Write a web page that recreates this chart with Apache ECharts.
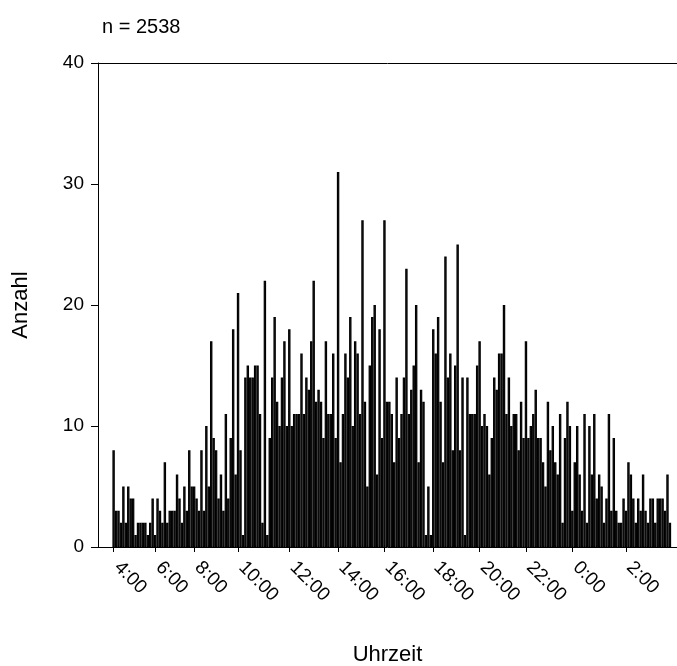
<!DOCTYPE html>
<html>
<head>
<meta charset="utf-8">
<script src="https://cdn.jsdelivr.net/npm/echarts@6/dist/echarts.min.js"></script>
<style>
html, body { margin: 0; padding: 0; background: #fff; }
#chart { width: 677px; height: 666px; }
</style>
</head>
<body>
<div id="chart"></div>
<script>
// Anzahl je Zeitintervall, ab 4:00 fortlaufend bis ca. 3:55
const counts = [
    8, 3, 3, 2, 5, 2, 5, 4, 4, 1,
    2, 2, 2, 2, 1, 2, 4, 1, 4, 3,
    2, 7, 2, 3, 3, 3, 6, 4, 2, 5,
    3, 8, 5, 5, 4, 3, 8, 3, 10, 5,
    17, 9, 8, 4, 6, 3, 11, 4, 9, 18,
    6, 21, 8, 1, 14, 15, 14, 14, 15, 15,
    11, 2, 22, 1, 9, 14, 19, 12, 10, 14,
    17, 10, 18, 10, 11, 11, 11, 16, 11, 14,
    13, 17, 22, 12, 13, 12, 9, 17, 11, 11,
    16, 9, 31, 7, 11, 16, 14, 19, 10, 17,
    16, 11, 27, 12, 5, 15, 19, 20, 6, 18,
    9, 27, 12, 12, 11, 7, 14, 9, 11, 14,
    23, 11, 13, 15, 20, 7, 13, 12, 1, 5,
    1, 18, 16, 19, 12, 7, 24, 14, 16, 8,
    15, 25, 8, 14, 1, 14, 11, 11, 11, 15,
    17, 10, 11, 10, 6, 9, 14, 13, 16, 16,
    20, 11, 14, 10, 11, 11, 8, 12, 9, 17,
    9, 10, 11, 13, 9, 9, 7, 5, 12, 8,
    10, 7, 6, 11, 2, 9, 12, 10, 3, 7,
    10, 6, 3, 11, 2, 10, 6, 11, 4, 6,
    5, 2, 4, 11, 3, 9, 3, 2, 2, 4,
    3, 7, 6, 4, 2, 4, 3, 6, 3, 2,
    4, 4, 2, 4, 4, 4, 3, 6, 2
]
// Position (Intervall-Nr.) der beschrifteten Uhrzeiten
const tickPos = [0, 17, 33, 51, 72, 92, 111, 131, 150, 169, 188, 210]
const tickLabels = ['4:00', '6:00', '8:00', '10:00', '12:00', '14:00', '16:00', '18:00', '20:00', '22:00', '0:00', '2:00']
const total = 2538

const font = 'Liberation Sans, Arial, sans-serif'
const xMin = -6.4
const xMax = 230.9
const gridLeft = 98
const plotWidth = 677 - gridLeft
const barW = plotWidth / (xMax - xMin)

const chart = echarts.init(document.getElementById('chart'))
const option = {
    animation: false,
    backgroundColor: '#fff',
    title: {
        text: 'n = ' + total,
        left: 97,
        top: 12,
        textStyle: { fontFamily: font, fontSize: 20, fontWeight: 'normal', color: '#000' },
    },
    grid: { left: gridLeft, right: 0, top: 63, bottom: 119, containLabel: false, outerBoundsMode: 'none' },
    xAxis: [
        {
            type: 'value',
            min: xMin,
            max: xMax,
            name: 'Uhrzeit',
            nameLocation: 'middle',
            nameGap: 97,
            nameTextStyle: { fontFamily: font, fontSize: 22, color: '#000' },
            splitLine: { show: false },
            axisLine: { show: true, onZero: false, lineStyle: { color: '#000', width: 1 } },
            axisTick: { show: true, length: 5, customValues: tickPos, lineStyle: { color: '#000' } },
            axisLabel: {
                customValues: tickPos,
                rotate: -45,
                margin: 14,
                padding: [0, 0, 0, 5],
                fontFamily: font,
                fontSize: 19,
                color: '#000',
                formatter: v => tickLabels[tickPos.indexOf(v)] || '',
            },
        },
        {
            type: 'value',
            position: 'top',
            min: xMin,
            max: xMax,
            splitLine: { show: false },
            axisLine: { show: true, onZero: false, lineStyle: { color: '#000', width: 1 } },
            axisTick: { show: false },
            axisLabel: { show: false },
        },
    ],
    yAxis: {
        type: 'value',
        min: 0,
        max: 40,
        interval: 10,
        name: 'Anzahl',
        nameLocation: 'middle',
        nameRotate: 90,
        nameGap: 66,
        nameTextStyle: { fontFamily: font, fontSize: 22, color: '#000' },
        splitLine: { show: false },
        axisLine: { show: true, onZero: false, lineStyle: { color: '#000', width: 1 } },
        axisTick: { show: true, length: 7, lineStyle: { color: '#000' } },
        axisLabel: { margin: 14, fontFamily: font, fontSize: 19, color: '#000' },
    },
    series: [
        {
            type: 'bar',
            xAxisIndex: 0,
            barWidth: barW,
            data: counts.map((v, i) => [i, v]),
            itemStyle: { color: '#fff', borderColor: '#000', borderWidth: 1.2 },
        },
    ],
}
chart.setOption(option)
</script>
</body>
</html>
